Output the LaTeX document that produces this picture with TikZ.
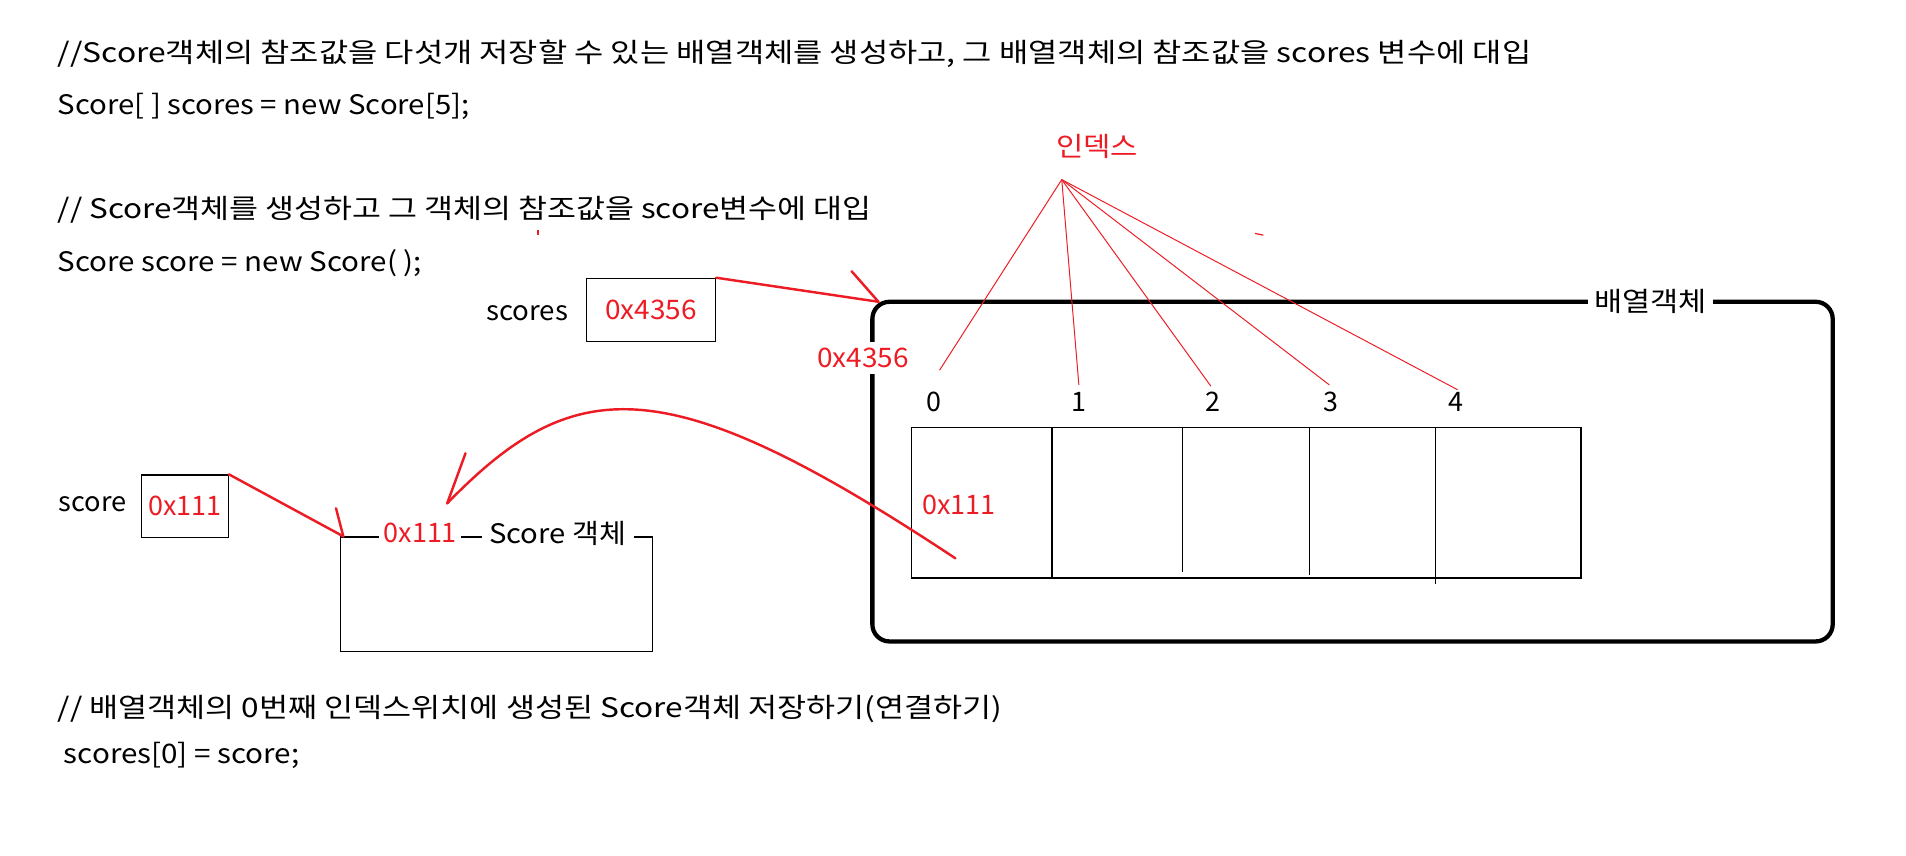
\documentclass[tikz,border=0pt]{standalone}
\usepackage{fontspec}
\setmainfont{Noto Sans CJK KR}
\usepackage{graphicx}
\definecolor{pred}{HTML}{ED1C24}
\newcommand{\fitw}[2]{\resizebox{#1pt}{\height}{#2}}
\tikzset{
  txt/.style={anchor=west, inner sep=0pt, font=\fontsize{22}{26}\selectfont},
  lbl/.style={inner sep=0pt, font=\fontsize{22}{26}\selectfont},
  rlbl/.style={lbl, text=pred},
  thinbox/.style={draw=black, line width=1pt},
  redarrow/.style={draw=pred, line width=2pt, line cap=round},
  fanline/.style={draw=pred, line width=0.8pt},
  frameline/.style={draw=black, line width=3.5pt, rounded corners=14pt},
}
\begin{document}
\begin{tikzpicture}[x=1pt,y=-1pt]
\useasboundingbox[fill=white] (0,0) rectangle (1560,700.6);

% code text lines
\node[txt] (l1) at (47,44) {\fitw{1206}{//Score객체의 참조값을 다섯개 저장할 수 있는 배열객체를 생성하고, 그 배열객체의 참조값을 scores 변수에 대입}};
\node[txt] (l2) at (47,87.5) {\fitw{337}{Score[ ] scores = new Score[5];}};
\node[txt] (l3) at (47,172) {\fitw{666}{// Score객체를 생성하고 그 객체의 참조값을 score변수에 대입}};
\node[txt] (l4) at (47,215.5) {\fitw{298}{Score score = new Score( );}};
\node[txt] (l5) at (47,580) {\fitw{773}{// 배열객체의 0번째 인덱스위치에 생성된 Score객체 저장하기(연결하기)}};
\node[txt] (l6) at (52,618) {\fitw{193}{scores[0] = score;}};

% small red marks
\draw[pred, line width=1.5pt] (440,188) -- (440,192);
\draw[pred, line width=1pt] (1027,191) -- (1034,192.5);

% scores variable
\node[lbl] (scoreslbl) at (431.5,256) {\fitw{67}{scores}};
\node[thinbox, rlbl, minimum width=105.6pt, minimum height=51.4pt] (sbox) at (532.8,253.5) {\fitw{75}{0x4356}};

% array frame
\draw[frameline] (714,247) rectangle (1500,525);
\node[lbl, fill=white, inner xsep=5pt, inner ysep=4pt] (arrlbl) at (1351,247) {\fitw{92}{배열객체}};
\node[rlbl, fill=white, inner xsep=1pt, inner ysep=5pt] (faddr) at (706.5,293) {\fitw{75}{0x4356}};

% arrow scores -> frame
\coordinate (ftip) at (719,247);
\coordinate (fh1) at (697,222);
\draw[redarrow] (sbox.north east) -- (ftip);
\draw[redarrow] (fh1) -- (ftip);

% index labels and fan
\node[rlbl] (idx) at (898,119.5) {\fitw{67}{인덱스}};
\coordinate (apex) at (869,147);
\node[lbl] (i0) at (764,329) {0};
\node[lbl] (i1) at (883,329) {1};
\node[lbl] (i2) at (993,329) {2};
\node[lbl] (i3) at (1089,329) {3};
\node[lbl] (i4) at (1192,329) {4};
\coordinate (f0) at (769,303);
\coordinate (f1) at (883,315);
\coordinate (f2) at (991,316);
\coordinate (f3) at (1088,315);
\coordinate (f4) at (1193,319);
\foreach \k in {0,...,4} { \draw[fanline] (apex) -- (f\k); }

% array cells
\draw[thinbox] (746,350) rectangle (1294,473);
\draw[thinbox] (861,350) -- (861,473);
\draw[thinbox] (968,350) -- (968,468);
\draw[thinbox] (1072,350) -- (1072,471);
\draw[black, line width=0.7pt] (1175,350) -- (1175,478);
\node[rlbl] (c0) at (785,413.5) {\fitw{60}{0x111}};

% curve from cell 0 to score object
\coordinate (cs) at (782,457);
\coordinate (ce) at (366,412);
\coordinate (ch) at (381,371);
\draw[redarrow] (cs) .. controls (545,300) and (470,305) .. (ce);
\draw[redarrow] (ch) -- (ce);

% score variable
\node[lbl] (scorelbl) at (76,413) {\fitw{55.5}{score}};
\node[thinbox, rlbl, minimum width=71pt, minimum height=51pt] (scbox) at (151.3,414.2) {\fitw{60}{0x111}};

% score object
\draw[thinbox] (278.5,439.6) rectangle (534,533);
\node[rlbl, fill=white, inner xsep=3.5pt, inner ysep=2pt] (oaddr) at (344,436) {\fitw{60}{0x111}};
\node[lbl, fill=white, inner xsep=6pt, inner ysep=2pt] (oname) at (456.5,437) {\fitw{112}{Score 객체}};
\coordinate (otip) at (281,439);
\coordinate (oh) at (275,416);
\draw[redarrow] (scbox.north east) -- (otip);
\draw[redarrow] (oh) -- (otip);
\end{tikzpicture}
\end{document}
